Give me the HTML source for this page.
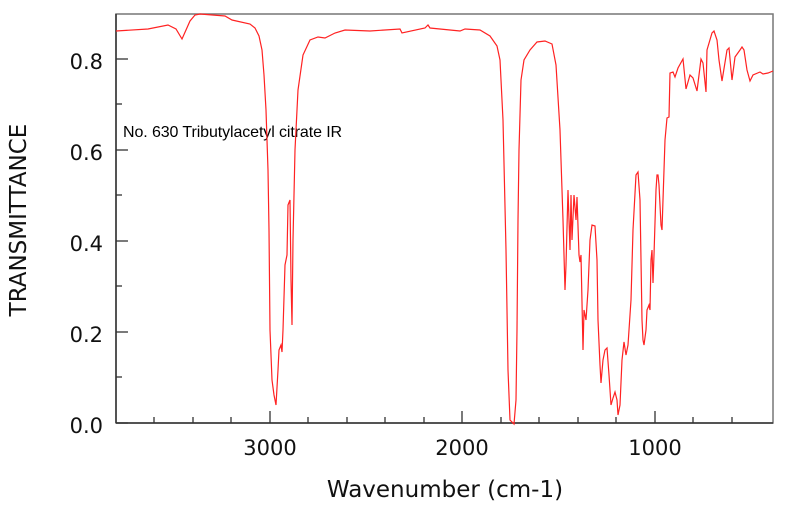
<!DOCTYPE html>
<html><head><meta charset="utf-8"><style>
body{margin:0;background:#fff;}
svg{display:block;font-family:"DejaVu Sans","Liberation Sans",sans-serif;}
</style></head><body>
<svg width="790" height="508" viewBox="0 0 790 508">
<rect x="116" y="14" width="657" height="409" fill="none" stroke="#777" stroke-width="1.5"/>
<line x1="116" y1="14" x2="116" y2="423" stroke="#333" stroke-width="1.5"/>
<line x1="116" y1="423" x2="773" y2="423" stroke="#333" stroke-width="1.5"/>
<g stroke="#333" stroke-width="1.3">
<line x1="154" y1="423" x2="154" y2="417"/><line x1="193" y1="423" x2="193" y2="417"/><line x1="231" y1="423" x2="231" y2="417"/>
<line x1="270" y1="423" x2="270" y2="411"/>
<line x1="308" y1="423" x2="308" y2="417"/><line x1="347" y1="423" x2="347" y2="417"/><line x1="385" y1="423" x2="385" y2="417"/><line x1="424" y1="423" x2="424" y2="417"/>
<line x1="462" y1="423" x2="462" y2="411"/>
<line x1="501" y1="423" x2="501" y2="417"/><line x1="539" y1="423" x2="539" y2="417"/><line x1="578" y1="423" x2="578" y2="417"/><line x1="616" y1="423" x2="616" y2="417"/>
<line x1="655" y1="423" x2="655" y2="411"/>
<line x1="693" y1="423" x2="693" y2="417"/><line x1="732" y1="423" x2="732" y2="417"/>
<line x1="116" y1="423" x2="128" y2="423"/><line x1="116" y1="377" x2="122" y2="377"/>
<line x1="116" y1="332" x2="128" y2="332"/><line x1="116" y1="286" x2="122" y2="286"/>
<line x1="116" y1="241" x2="128" y2="241"/><line x1="116" y1="195" x2="122" y2="195"/>
<line x1="116" y1="150" x2="128" y2="150"/><line x1="116" y1="104" x2="122" y2="104"/>
<line x1="116" y1="59" x2="128" y2="59"/>
</g>
<g font-size="21" fill="#111" text-anchor="end">
<text x="103" y="433">0.0</text><text x="103" y="342">0.2</text><text x="103" y="251">0.4</text><text x="103" y="160">0.6</text><text x="103" y="69">0.8</text>
</g>
<g font-size="21" fill="#111" text-anchor="middle">
<text x="270" y="455">3000</text><text x="462" y="455">2000</text><text x="655" y="455">1000</text>
</g>
<text x="445" y="497" font-size="23" text-anchor="middle" fill="#111">Wavenumber (cm-1)</text>
<text transform="translate(26,220) rotate(-90)" font-size="23" text-anchor="middle" fill="#111">TRANSMITTANCE</text>
<text x="123" y="137" font-size="16" letter-spacing="-0.1" fill="#000" font-family="Liberation Sans,sans-serif">No. 630 Tributylacetyl citrate IR</text>
<polyline fill="none" stroke="#f22" stroke-width="1.2" points="116,31 148,29 168,25 176,29 182,39 186,30 190,21 195,15 200,14 225,16 232,20 250,24 255,28 259,36 262,50 264,75 266,110 268,170 269,230 270,330 272,380 274,395 276,405 278,370 279,350 281,345 282,352 283,330 285,265 287,255 288,205 290,200 291,280 292,325 293,240 295,150 298,90 303,55 310,40 318,37 325,38 335,33 345,30 370,31 400,29 402,33 425,28 428,25 430,28 460,31 465,29 480,30 490,36 497,46 500,60 503,120 506,250 508,370 510,420 514,424 516,400 517,330 518,220 519,150 521,80 524,60 530,50 537,42 545,41 552,44 556,65 560,130 563,220 565,290 566,265 568,190 570,250 571,195 572,240 574,195 576,220 577,197 579,255 580,262 581,255 583,350 584,310 586,320 588,290 590,240 592,225 595,226 597,260 598,320 600,365 601,383 603,360 605,350 607,348 609,375 611,405 613,398 615,392 617,400 618,415 620,405 622,360 624,342 626,355 628,345 631,300 633,230 636,175 638,172 640,200 642,320 643,340 644,345 646,330 647,310 649,305 650,310 651,260 652,250 653,283 654,255 656,190 657,175 658,175 659,185 661,225 662,230 663,200 665,140 667,118 669,117 670,73 673,72 675,77 678,68 683,59 686,89 690,75 693,78 697,91 701,59 703,63 706,92 707,50 712,33 714,31 717,40 719,60 722,81 727,50 729,48 732,80 735,57 740,50 742,47 744,50 747,70 750,81 753,75 760,72 763,74 768,73 773,71"/>
</svg>
</body></html>
